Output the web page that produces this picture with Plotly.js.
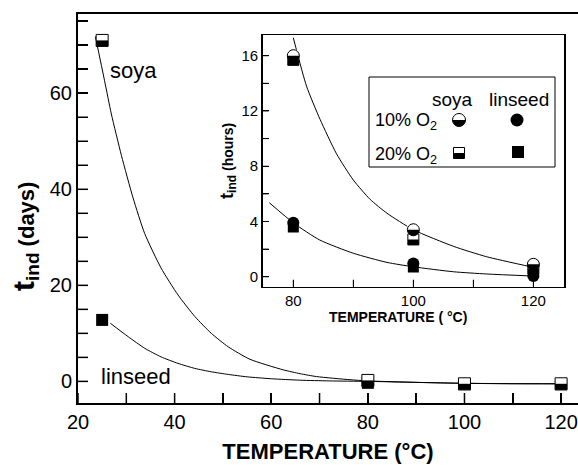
<!DOCTYPE html>
<html><head><meta charset="utf-8">
<script src="https://cdn.plot.ly/plotly-3.0.1.min.js"></script>
<style>html,body{margin:0;padding:0;background:#fff;} #chart{width:578px;height:465px;}</style>
</head><body><div id="chart"></div>
<script>
// ---------- Main plot data (induction time, days) ----------
const mainTemps   = [25, 80, 100, 120];
const mainSoya    = [71.0, 0.2, -0.5, -0.5];
const mainLinseed = [12.8, -0.3, -0.6, -0.6];

const mainSoyaFitX = [23.6, 25.5, 26.9, 29.0, 31.4, 33.8, 37.2, 40.7, 44.2, 47.6, 51.1, 55.6, 62.5, 66.0, 69.4, 76.3, 80, 90, 100, 110, 120];
const mainSoyaFitY = [71.8, 62.6, 55.7, 47.0, 38.2, 30.8, 23.6, 18.0, 13.5, 10.0, 7.2, 4.6, 2.4, 1.6, 1.0, 0.35, 0.1, -0.2, -0.4, -0.5, -0.5];
const mainLinseedFitX = [26.7, 30.4, 33.8, 37.2, 40.7, 44.2, 47.6, 51.1, 55.0, 60.0, 66.0, 72.0, 80, 100, 120];
const mainLinseedFitY = [12.1, 9.3, 6.9, 5.1, 3.75, 2.7, 2.0, 1.45, 0.95, 0.55, 0.25, 0.1, 0.0, -0.4, -0.5];

// ---------- Inset data (induction time, hours) ----------
const insetTemps = [80, 100, 120];
const soya10     = [16.0, 3.4, 0.9];
const soya20     = [15.7, 2.7, 0.6];
const linseed10  = [3.9, 0.95, 0.05];
const linseed20  = [3.6, 0.7, 0.35];

const insetSoyaFitX = [80.0, 82.2, 84.45, 87.2, 90.0, 92.8, 95.6, 100, 106.7, 112.2, 120];
const insetSoyaFitY = [17.3, 13.8, 11.4, 8.9, 7.0, 5.6, 4.6, 3.4, 2.2, 1.45, 0.68];
const insetLinseedFitX = [76.0, 80.1, 84.4, 90.0, 95.6, 100, 106.7, 112.2, 120];
const insetLinseedFitY = [5.36, 3.87, 2.66, 1.7, 1.04, 0.72, 0.36, 0.2, 0.05];

// ---------- Ticks ----------
const mainXTickVals = [20, 30, 40, 50, 60, 70, 80, 90, 100, 110, 120];
const mainXTickText = ['20', '', '40', '', '60', '', '80', '', '100', '', '120'];
const mainYTickVals = [0, 5, 10, 15, 20, 25, 30, 35, 40, 45, 50, 55, 60, 65, 70, 75];
const mainYTickText = ['0', '', '', '', '20', '', '', '', '40', '', '', '', '60', '', '', ''];
const insetXTickVals = [80, 90, 100, 110, 120];
const insetXTickText = ['80', '', '100', '', '120'];
const insetYTickVals = [0, 2, 4, 6, 8, 10, 12, 14, 16];
const insetYTickText = ['0', '', '4', '', '8', '', '12', '', '16'];

// legend labels
const legendCols = ['soya', 'linseed'];
const legendRows = ['10% O<sub>2</sub>', '20% O<sub>2</sub>'];

const FONT = 'Liberation Sans, Arial, Helvetica, sans-serif';

// pixel -> paper helpers (plot area: x 78..578, y 14..403)
function px(p) { return (p - 78) / 500; }
function py(p) { return (403 - p) / 389; }
// inset domain and pixel -> inset axis helpers (inset area: x 262.7..564, y 35..286.7)
const X2D = [0.3694, 0.972], Y2D = [0.299, 0.946];
const X2R = [74.9, 125.1], Y2R = [-0.72, 17.5];
function x2v(p) { return X2R[0] + (p - 262.7) * (X2R[1] - X2R[0]) / (564 - 262.7); }
function y2v(p) { return Y2R[0] + (286.7 - p) * (Y2R[1] - Y2R[0]) / (286.7 - 35.0); }

function base(x, y, xa, ya) {
  return {type: 'scatter', mode: 'markers', x: x, y: y, xaxis: xa, yaxis: ya,
          hoverinfo: 'skip', showlegend: false};
}
function fullSquare(x, y, xa, ya, s) {
  const t = base(x, y, xa, ya);
  t.marker = {symbol: 'square', size: s, color: 'black', line: {width: 0}};
  return [t];
}
function fullCircle(x, y, xa, ya, s) {
  const t = base(x, y, xa, ya);
  t.marker = {symbol: 'circle', size: s, color: 'black', line: {width: 0}};
  return [t];
}
function halfSquare(x, y, xa, ya, s) {
  const a = base(x, y, xa, ya);
  a.marker = {symbol: 'square', size: s, color: 'white', line: {color: 'black', width: 1}};
  const b = base(x, y, xa, ya);
  b.marker = {symbol: 'line-ew-open', size: s / 1.4, color: 'black', line: {color: 'black', width: s / 2}, standoff: s / 4};
  return [a, b];
}
function halfCircle(x, y, xa, ya, s) {
  const a = base(x, y, xa, ya);
  a.marker = {symbol: 'circle', size: s, color: 'black', line: {width: 0}};
  const b = base(x, y, xa, ya);
  b.marker = {symbol: 'line-ew-open', size: s / 1.4, color: 'white', line: {color: 'white', width: s / 2}, angle: 180, standoff: s / 4};
  const c = base(x, y, xa, ya);
  c.marker = {symbol: 'circle-open', size: s, color: 'black', line: {color: 'black', width: 1}};
  return [a, b, c];
}
function curve(x, y, xa, ya) {
  return {type: 'scatter', mode: 'lines', x: x, y: y, xaxis: xa, yaxis: ya,
          line: {color: 'black', width: 1, shape: 'spline', smoothing: 0.6}, hoverinfo: 'skip', showlegend: false};
}

const traces = [];
// main
traces.push(curve(mainSoyaFitX, mainSoyaFitY, 'x', 'y'));
traces.push(curve(mainLinseedFitX, mainLinseedFitY, 'x', 'y'));
traces.push(...fullSquare(mainTemps, mainLinseed, 'x', 'y', 12));
traces.push(...halfSquare(mainTemps, mainSoya, 'x', 'y', 12));
// inset
traces.push(curve(insetSoyaFitX, insetSoyaFitY, 'x2', 'y2'));
traces.push(curve(insetLinseedFitX, insetLinseedFitY, 'x2', 'y2'));
traces.push(...fullCircle(insetTemps, linseed10, 'x2', 'y2', 12));
traces.push(...fullSquare(insetTemps, linseed20, 'x2', 'y2', 11));
traces.push(...halfSquare(insetTemps, soya20, 'x2', 'y2', 11));
traces.push(...halfCircle(insetTemps, soya10, 'x2', 'y2', 12));
// legend key symbols (placed inside the inset frame)
traces.push(...halfCircle([x2v(459)], [y2v(120)], 'x2', 'y2', 13));
traces.push(...fullCircle([x2v(517)], [y2v(120)], 'x2', 'y2', 13));
traces.push(...halfSquare([x2v(459)], [y2v(153)], 'x2', 'y2', 11));
traces.push(...fullSquare([x2v(518)], [y2v(152)], 'x2', 'y2', 12));

const axisCommon = {showline: true, linecolor: 'black', showgrid: false, zeroline: false,
                    ticks: 'inside', tickcolor: 'black', fixedrange: true, tickmode: 'array'};

function ann(xp, yp, text, size, opts) {
  return Object.assign({xref: 'paper', yref: 'paper', x: px(xp), y: py(yp), showarrow: false,
    xanchor: 'center', yanchor: 'middle', text: text, font: {size: size, family: FONT, color: 'black'}}, opts || {});
}

const annotations = [
  ann(108, 70, 'soya', 22, {xanchor: 'left'}),
  ann(99, 376, 'linseed', 22, {xanchor: 'left'}),
  ann(25, 237, "<span style='font-size:30px'>t</span><sub><span style='font-size:19px'>ind</span></sub> (days)", 22,
      {textangle: -90, font: {size: 22, family: FONT, color: 'black', weight: 'bold'}}),
  ann(398, 317, 'TEMPERATURE ( °C)', 14, {font: {size: 14, family: FONT, color: 'black', weight: 'bold'}}),
  ann(452, 99, legendCols[0], 19),
  ann(519, 99, legendCols[1], 19),
  ann(373, 122, legendRows[0], 18, {xanchor: 'left'}),
  ann(373, 155, legendRows[1], 18, {xanchor: 'left'})
];

// inward tick marks, placed at the axis tick values through the axis references
const shapes = [
  {type: 'rect', xref: 'paper', yref: 'paper', x0: px(369), x1: px(555), y0: py(167), y1: py(77),
   line: {color: 'black', width: 1}, fillcolor: 'rgba(0,0,0,0)', layer: 'above'}
];
mainXTickVals.forEach(function(v){ shapes.push({type: 'line', xref: 'x', yref: 'paper', x0: v, x1: v, y0: 0, y1: 10 / 389, line: {color: 'black', width: 1.5}, layer: 'above'}); });
mainYTickVals.forEach(function(v){ shapes.push({type: 'line', xref: 'paper', yref: 'y', x0: 0, x1: 10 / 500, y0: v, y1: v, line: {color: 'black', width: 1.5}, layer: 'above'}); });
insetXTickVals.forEach(function(v){ shapes.push({type: 'line', xref: 'x2', yref: 'paper', x0: v, x1: v, y0: Y2D[0], y1: Y2D[0] + 7 / 389, line: {color: 'black', width: 1}, layer: 'above'}); });
insetYTickVals.forEach(function(v){ shapes.push({type: 'line', xref: 'paper', yref: 'y2', x0: X2D[0], x1: X2D[0] + 6 / 500, y0: v, y1: v, line: {color: 'black', width: 1}, layer: 'above'}); });

const layout = {
  width: 578, height: 465,
  margin: {l: 78, r: 0, t: 14, b: 62},
  paper_bgcolor: 'white', plot_bgcolor: 'white',
  font: {family: FONT, color: 'black'},
  showlegend: false,
  xaxis: Object.assign({}, axisCommon, {
    domain: [0, 1], anchor: 'y', range: [20, 123.5], mirror: true, linewidth: 2,
    tickvals: mainXTickVals, ticktext: mainXTickText, ticklen: 10, tickwidth: 1.5,
    tickfont: {size: 20, family: FONT},
    title: {text: 'TEMPERATURE (°C)', font: {size: 22, family: FONT, weight: 'bold'}, standoff: 12}
  }),
  yaxis: Object.assign({}, axisCommon, {
    domain: [0, 1], anchor: 'x', range: [-4.5, 76.5], mirror: false, linewidth: 2,
    tickvals: mainYTickVals, ticktext: mainYTickText, ticklen: 10, tickwidth: 1.5,
    tickfont: {size: 20, family: FONT}
  }),
  xaxis2: Object.assign({}, axisCommon, {
    domain: X2D, anchor: 'y2', range: X2R, mirror: true, linewidth: 1.5,
    tickvals: insetXTickVals, ticktext: insetXTickText, ticklen: 7, tickwidth: 1,
    tickfont: {size: 15, family: FONT}
  }),
  yaxis2: Object.assign({}, axisCommon, {
    domain: Y2D, anchor: 'x2', range: Y2R, mirror: true, linewidth: 1.5,
    tickvals: insetYTickVals, ticktext: insetYTickText, ticklen: 6, tickwidth: 1,
    tickfont: {size: 15, family: FONT},
    title: {text: "<span style='font-size:18px'>t</span><sub><span style='font-size:12px'>ind</span></sub> (hours)",
            font: {size: 14, family: FONT, weight: 'bold'}, standoff: 4}
  }),
  shapes: shapes,
  annotations: annotations
};

Plotly.newPlot('chart', traces, layout, {staticPlot: true, displayModeBar: false});
</script>
</body></html>
